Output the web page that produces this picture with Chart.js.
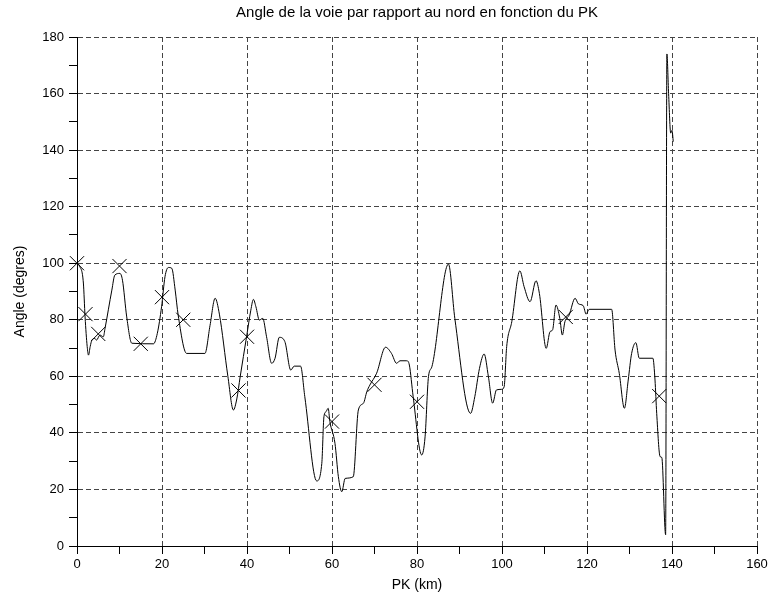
<!DOCTYPE html>
<html>
<head>
<meta charset="utf-8">
<script src="https://cdn.jsdelivr.net/npm/chart.js@4.4.0/dist/chart.umd.min.js"></script>
<style>
  body { margin: 0; background: #fff; }
</style>
</head>
<body>
<canvas id="angleChart" width="773" height="598"></canvas>
<script>
// angle de la voie vs PK

const pk = [0, 0.6, 1.5, 1.9, 2.4, 2.7, 3.1, 3.5, 4.2, 4.6, 5.4, 6.2, 6.6, 8.2, 8.9, 10.1, 10.7, 11.7, 12.9,
  18, 18.9, 19.9, 20.7, 21.5, 22.3, 23.1, 23.8, 25.8, 30.1, 31.3, 32.5, 33.5, 35.5, 36.8, 37.6, 38.4,
  39.9, 40.9, 41.5, 42.1, 42.9, 43.7, 44.6, 45.8, 46.6, 47.6, 48.9, 50.3, 51.1, 52.6, 53.6, 56.4,
  57.6, 58.1, 58.6, 59.1, 59.5, 60.7, 61.5, 62.3, 63.1, 65, 66.2, 67.4, 68.2, 68.9, 70.5, 72.6,
  74, 75.2, 76, 77.6, 78.2, 79.1, 81.1, 81.9, 82.7, 83.5, 87.4, 88.9, 92.6, 93.6, 94.7, 95.8,
  96.8, 97.8, 98.7, 99.9, 100.5, 101.1, 102.3, 104.2, 105.2, 106.6, 108, 108.8, 110.4, 111.3,
  111.9, 112.7, 113.6, 114.2, 114.8, 115.8, 117.2, 118, 119.1, 119.8, 120.5, 125.8, 126.6, 127.6,
  128.8, 129.7, 130.5, 131.5, 132.3, 135.5, 136, 136.4, 137.2, 137.6, 138.5, 138.8, 139.2, 139.7,
  140, 140.3];
const angle = [100, 99, 93, 81, 70.5, 67.5, 70.5, 72.8, 73.4, 72.8, 74.6, 74, 77, 90.5, 95.8, 96.4, 94, 81, 71.7,
  71.5, 75.2, 84.6, 95.2, 98.5, 98.2, 90.5, 81.7, 68.1, 68.1, 78, 87.6, 82, 60, 48.1, 52, 59.9,
  74, 83.4, 87.2, 84.6, 79.9, 80.5, 74, 64.6, 66.4, 73.8, 72.3, 62.2, 63.6, 63.6, 52.8, 23,
  29.2, 45.7, 47.5, 48.7, 44, 36.3, 24.5, 19.2, 23.9, 24.5, 48.1, 50.5, 54.6, 56.9, 61.1, 70.3,
  68.1, 64.6, 65.5, 65.5, 64, 52.8, 32.2, 38.6, 59.9, 63.4, 99.7, 80.5, 46.9, 52.8, 62.8, 67.9,
  59.9, 50.5, 55.2, 55.4, 56.3, 70.5, 79.3, 97.3, 91.7, 86.4, 93.8, 89.3, 69.9, 75.8,
  76.4, 85.2, 80.5, 74.6, 79.3, 81.7, 87.6, 85.6, 85, 82, 83.7, 83.7, 69.3, 61,
  48.7, 58.7, 68.1, 71.9, 66.4, 66.4, 58.7, 46.9, 31.6, 31.3, 4, 174, 160, 146,
  147, 143];

const markPk = [0, 2, 5, 10, 15, 20, 25, 38, 40, 60, 70, 80, 115, 137];
const markAngle = [100, 82, 75, 99, 71.5, 88, 80, 55, 74, 44, 57, 51, 81, 53];

const xTicks = { min: 0, max: 160, step: 10, major: 20 };
const yTicks = { min: 0, max: 180, step: 10, major: 20 };

const font = "'Liberation Sans', Arial, sans-serif";

function axis(t, titleText, fitSize) {
  return {
    type: "linear",
    min: t.min,
    max: t.max,
    afterFit: fitSize,
    ticks: {
      stepSize: t.step,
      autoSkip: false,
      maxRotation: 0,
      color: "#000",
      font: { family: font, size: 13 },
      callback: v => (v % t.major === 0 ? v : "")
    },
    grid: {
      color: ctx => (ctx.tick && ctx.tick.value % t.major === 0 ? "#444" : "rgba(0,0,0,0)"),
      tickColor: "#000",
      tickLength: 8,
      lineWidth: 1
    },
    border: { display: true, color: "#000", width: 1, dash: [5, 3] },
    title: {
      display: true,
      text: titleText,
      color: "#000",
      font: { family: font, size: 14 }
    }
  };
}

const xAxis = axis(xTicks, "PK (km)", s => { s.height = 52; });
xAxis.ticks.padding = 3;
xAxis.title.padding = { top: 2, bottom: 4 };
const yAxis = axis(yTicks, "Angle (degres)", s => { s.width = 77; });
yAxis.ticks.padding = 5;
yAxis.title.padding = { top: 12, bottom: 4 };

new Chart(document.getElementById("angleChart"), {
  type: "line",
  data: {
    datasets: [
      {
        label: "angle",
        data: pk.map((x, i) => ({ x: x, y: angle[i] })),
        borderColor: "#000",
        borderWidth: 1,
        pointRadius: 0,
        cubicInterpolationMode: "monotone",
        fill: false
      },
      {
        label: "repères",
        data: markPk.map((x, i) => ({ x: x, y: markAngle[i] })),
        showLine: false,
        clip: false,
        pointStyle: "crossRot",
        pointRadius: 10,
        pointBorderWidth: 1,
        pointBorderColor: "#000",
        borderColor: "#000"
      }
    ]
  },
  options: {
    responsive: false,
    animation: false,
    layout: { padding: { left: 0, right: 16, top: 0, bottom: 0 } },
    plugins: {
      legend: { display: false },
      tooltip: { enabled: false },
      title: {
        display: true,
        fullSize: false,
        text: "Angle de la voie par rapport au nord en fonction du PK",
        color: "#000",
        font: { family: font, size: 15, weight: "normal" },
        padding: { top: 4, bottom: 15 }
      }
    },
    scales: { x: xAxis, y: yAxis }
  }
});
</script>
</body>
</html>
